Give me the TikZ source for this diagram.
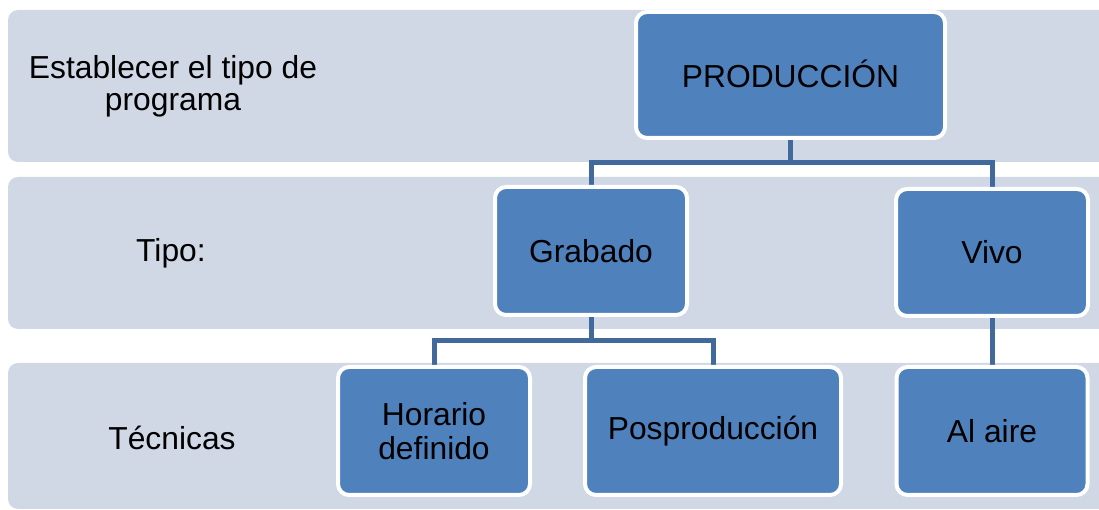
\documentclass[tikz,border=0pt]{standalone}
\usepackage{fontspec}
\setmainfont{Liberation Sans}
\pgfdeclarelayer{bands}
\pgfdeclarelayer{lines}
\pgfsetlayers{bands,lines,main}
\definecolor{bandfill}{HTML}{D0D8E6}
\definecolor{boxfill}{HTML}{4F81BD}
\definecolor{linkcol}{HTML}{41699B}
\begin{document}
\begin{tikzpicture}[x=1pt,y=1pt,
  band/.style={fill=bandfill, rounded corners=10pt},
  box/.style={draw=white, line width=4pt, fill=boxfill, rounded corners=11pt, inner sep=0pt, align=center, font=\fontsize{31.8}{34}\selectfont},
  lbl/.style={align=center, font=\fontsize{31.8}{32}\selectfont},
  link/.style={draw=linkcol, line width=5pt}]
\useasboundingbox (0,0) rectangle (1099,510);
\clip (0,0) rectangle (1099,510);
\begin{pgfonlayer}{bands}
  \fill[band] (8,348) rectangle (1115,500);
  \fill[band] (8,181) rectangle (1115,333);
  \fill[band] (8,1) rectangle (1115,147);
\end{pgfonlayer}
\node[lbl] (l1) at (173,424) {Establecer el tipo de\\programa};
\node[lbl] (l2) at (171,257) {Tipo:};
\node[lbl] (l3) at (172,72) {Técnicas};
\node[box, minimum width=309pt, minimum height=126pt] (prod) at (790.5,435) {\raisebox{3pt}{PRODUCCIÓN}};
\node[box, minimum width=192pt, minimum height=128pt] (grab) at (591,259) {Grabado};
\node[box, minimum width=192pt, minimum height=127pt] (vivo) at (992,257.5) {Vivo};
\node[box, minimum width=192pt, minimum height=128pt] (hor) at (434,79) {Horario\\definido};
\node[box, minimum width=256pt, minimum height=128pt] (pos) at (713,79) {Posproducción};
\node[box, minimum width=191pt, minimum height=128pt] (aire) at (992,79) {Al aire};
\coordinate (bus1) at (0,347);
\coordinate (bus2) at (0,169);
\begin{pgfonlayer}{lines}
  \draw[link] (prod.south) |- (grab.north |- bus1) -- (grab.north);
  \draw[link] (prod.south) |- (vivo.north |- bus1) -- (vivo.north);
  \draw[link] (grab.south) |- (hor.north |- bus2) -- (hor.north);
  \draw[link] (grab.south) |- (pos.north |- bus2) -- (pos.north);
  \draw[link] (vivo.south) -- (aire.north);
\end{pgfonlayer}
\end{tikzpicture}
\end{document}
